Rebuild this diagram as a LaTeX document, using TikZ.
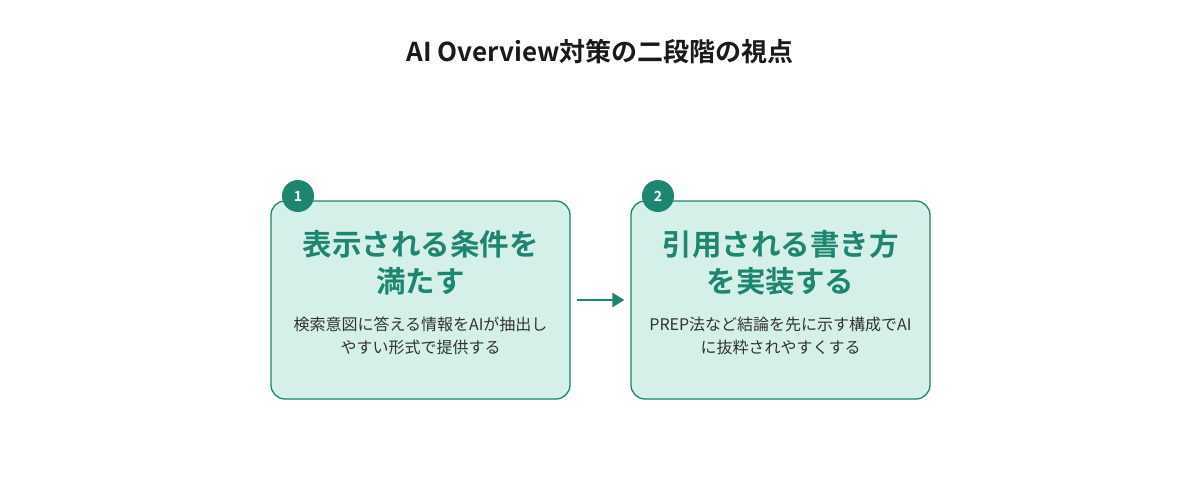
\documentclass[tikz,border=0pt]{standalone}
\usepackage{fontspec}
\setmainfont{Noto Sans CJK JP}
\newfontfamily\jpbold{Noto Sans CJK JP Bold}
\usetikzlibrary{arrows.meta}
\definecolor{teal}{HTML}{1E8570}
\definecolor{boxfill}{HTML}{D5F0E8}
\definecolor{bodytext}{HTML}{333333}
\definecolor{titletext}{HTML}{1A1A1A}
\tikzset{
  stepcard/.style={draw=teal, line width=1.3pt, fill=boxfill, rounded corners=14pt, minimum width=299pt, minimum height=198pt, inner sep=0pt},
  badge/.style={circle, fill=teal, minimum size=32pt, inner sep=0pt, text=white, font=\jpbold\fontsize{14}{14}\selectfont},
  heading/.style={text=teal, font=\jpbold\fontsize{29.5}{37}\selectfont, align=center, text width=290pt, inner sep=0pt},
  bodytxt/.style={text=bodytext, font=\fontsize{16}{23}\selectfont, align=center, text width=290pt, inner sep=0pt},
  flow/.style={draw=teal, line width=2.8pt, -{Triangle[length=12pt,width=14pt]}}
}
\begin{document}
\begin{tikzpicture}[x=1pt,y=-1pt]
\useasboundingbox (0,0) rectangle (1200,500);
\node[text=titletext, font=\jpbold\fontsize{26}{30}\selectfont] (title) at (600,52) {AI Overview対策の二段階の視点};
\node[stepcard] (c1) at (420.5,300) {};
\node[stepcard] (c2) at (780.5,300) {};
\node[badge] (b1) at (298,196) {1};
\node[badge] (b2) at (658,196) {2};
\node[heading] (h1) at (420.5,263) {表示される条件を\\満たす};
\node[heading] (h2) at (780.5,263) {引用される書き方\\を実装する};
\node[bodytxt] (t1) at (420.5,336) {検索意図に答える情報をAIが抽出し\\やすい形式で提供する};
\node[bodytxt] (t2) at (780.5,336) {PREP法など結論を先に示す構成でAI\\に抜粋されやすくする};
\draw[flow] ([xshift=6pt]c1.east) -- ([xshift=-6pt]c2.west);
\end{tikzpicture}
\end{document}
